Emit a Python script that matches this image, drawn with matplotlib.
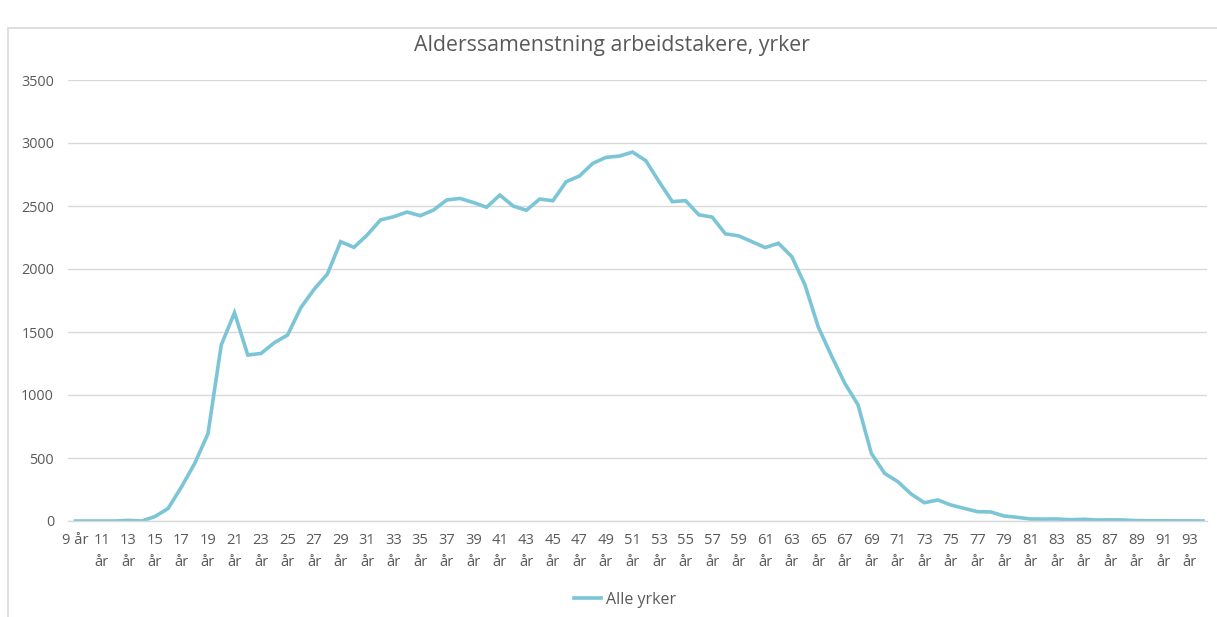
import matplotlib.pyplot as plt
from matplotlib.patches import Rectangle

# Antall arbeidstakere per alder (alle yrker)
ages = list(range(9, 95))
counts = [
    0, 0, 0, 0, 5, 0, 35, 100, 270, 457,          # 9-18
    693, 1397, 1653, 1317, 1330, 1415, 1476, 1693, 1839, 1960,  # 19-28
    2217, 2172, 2270, 2389, 2415, 2452, 2423, 2468, 2548, 2560,  # 29-38
    2528, 2490, 2587, 2500, 2466, 2555, 2542, 2693, 2738, 2838,  # 39-48
    2886, 2896, 2928, 2860, 2693, 2535, 2542, 2430, 2412, 2279,  # 49-58
    2263, 2217, 2170, 2204, 2099, 1873, 1540, 1310, 1093, 921,   # 59-68
    537, 378, 312, 214, 145, 167, 127, 100, 74, 72,              # 69-78
    40, 29, 16, 15, 16, 10, 14, 8, 9, 8,                         # 79-88
    3, 2, 2, 1, 1, 0,                                            # 89-94
]
tick_ages = list(range(9, 94, 2))
tick_labels = ["9 år" if a == 9 else f"{a}\når" for a in tick_ages]
yticks = list(range(0, 3501, 500))

plt.rcParams['font.family'] = ['Open Sans', 'DejaVu Sans']
grey = '#595959'
line_col = '#7CC5D6'

fig = plt.figure(figsize=(12.17, 6.17), dpi=100)
W, H = 1217, 617
ax = fig.add_axes([68 / W, 96 / H, (1207 - 68) / W, (521 - 80) / H])

# chart area frame
fig.patches.append(Rectangle((8 / W, -0.1), 1.2, (H - 28) / H + 0.1,
                             transform=fig.transFigure, fill=False,
                             edgecolor='#D9D9D9', linewidth=1.2))

ax.plot(ages, counts, color=line_col, linewidth=2.6, label='Alle yrker',
        solid_joinstyle='miter')

ax.set_xlim(8.45, 94.3)
ax.set_ylim(0, 3500)
ax.set_yticks(yticks)
ax.set_xticks(tick_ages)
ax.set_xticklabels(tick_labels, fontsize=10.6, color=grey, va='top',
                   linespacing=1.55)
ax.tick_params(axis='y', labelsize=10.4, labelcolor=grey, length=0, pad=10)
ax.tick_params(axis='x', length=0, pad=9)
ax.grid(axis='y', color='#D9D9D9', linewidth=1.0)
ax.set_axisbelow(True)
for side in ['top', 'right', 'left']:
    ax.spines[side].set_visible(False)
ax.spines['bottom'].set_color('#D9D9D9')
ax.spines['bottom'].set_linewidth(1.0)

fig.text(612 / W, 1 - 46 / H, 'Alderssamenstning arbeidstakere, yrker',
         ha='center', va='center', fontsize=15.3, color=grey)

leg = fig.legend(loc='center', bbox_to_anchor=(625 / W, 1 - 600 / H),
                 frameon=False, fontsize=11.5, handlelength=1.7,
                 handletextpad=0.3)
for t in leg.get_texts():
    t.set_color(grey)

fig.savefig('out.png', dpi=100)
